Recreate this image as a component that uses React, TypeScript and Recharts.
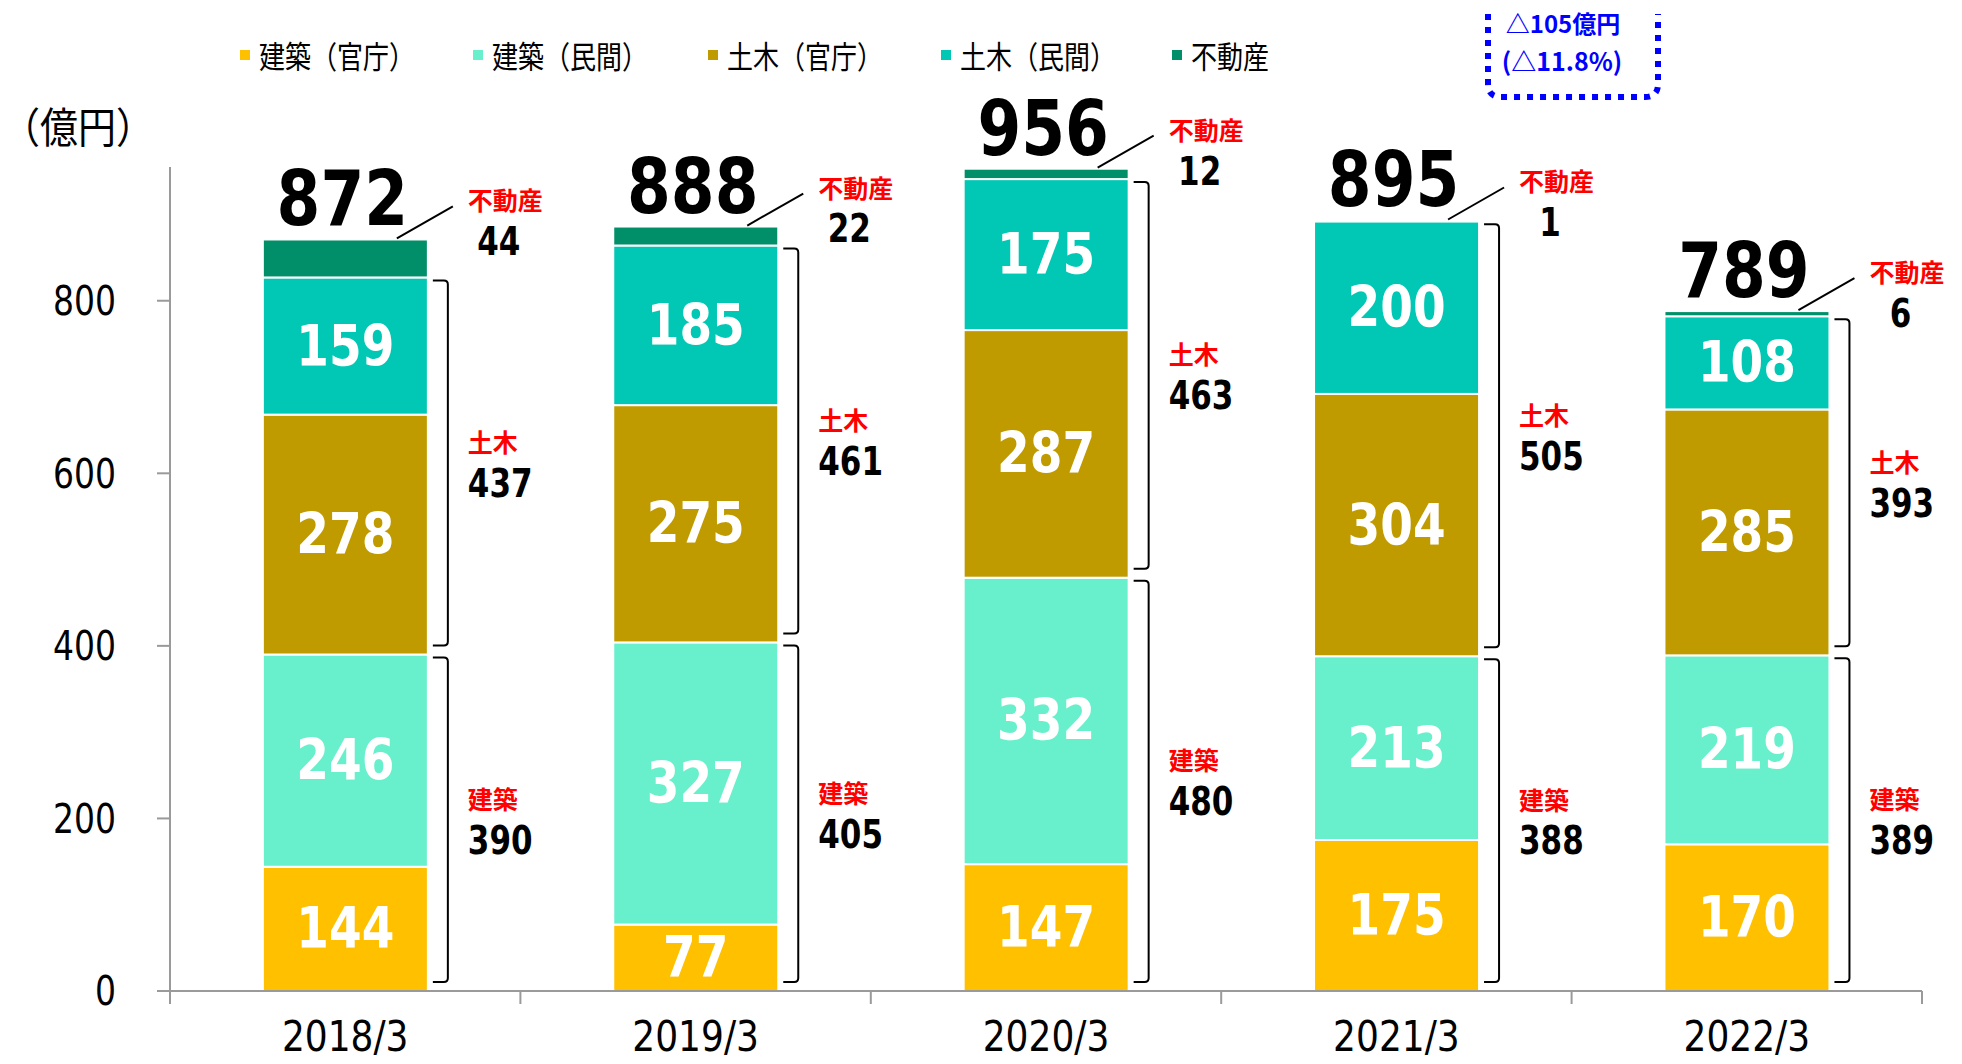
import React from 'react';
import { BarChart, Bar, XAxis, YAxis } from 'recharts';

const categories = ['2018/3', '2019/3', '2020/3', '2021/3', '2022/3'];
const kenchikuKancho = [144, 77, 147, 175, 170];
const kenchikuMinkan = [246, 327, 332, 213, 219];
const dobokuKancho = [278, 275, 287, 304, 285];
const dobokuMinkan = [159, 185, 175, 200, 108];
const fudosan = [44, 22, 12, 1, 6];
const kenchikuTotal = [390, 405, 480, 388, 389];
const dobokuTotal = [437, 461, 463, 505, 393];
const grandTotal = [872, 888, 956, 895, 789];
const yTicks = [0, 200, 400, 600, 800];

const seriesNames = ['建築（官庁）', '建築（民間）', '土木（官庁）', '土木（民間）', '不動産'];
const seriesKeys = ['kk', 'km', 'dk', 'dm', 'fd'];
const seriesColors = ['#FFC000', '#68F0CC', '#C09B00', '#00C8B4', '#008F68'];

const data = categories.map((name, i) => ({
  name,
  kk: kenchikuKancho[i],
  km: kenchikuMinkan[i],
  dk: dobokuKancho[i],
  dm: dobokuMinkan[i],
  fd: fudosan[i],
  kt: kenchikuTotal[i],
  dt: dobokuTotal[i],
  gt: grandTotal[i],
}));

const W = 1962;
const H = 1064;
const PLOT_LEFT = 170;
const PLOT_RIGHT = 1922;
const PLOT_TOP = 167;
const PLOT_BOTTOM = 991;
const BAND = (PLOT_RIGHT - PLOT_LEFT) / categories.length;

const NUM_FONT = '"DejaVu Sans", Verdana, sans-serif';
const CJK_FONT = '"Noto Sans CJK JP", "Noto Sans", sans-serif';
const AXIS_GRAY = '#9a9a9a';

const Bracket = ({ R, top, bottom, label, value }: any) => {
  const t = top + 3;
  const b = bottom - 9;
  const vx = R + 20;
  const mid = (t + b) / 2;
  return (
    <g>
      <path
        d={`M${R + 5},${t} L${vx - 4},${t} Q${vx},${t} ${vx},${t + 4} L${vx},${b - 4} Q${vx},${b} ${vx - 4},${b} L${R + 5},${b}`}
        fill="none"
        stroke="#000"
        strokeWidth={2}
      />
      <text
        x={R + 40}
        y={mid - 22}
        fill="#FF0000"
        fontFamily={CJK_FONT}
        fontWeight="bold"
        fontSize={25}
        dominantBaseline="central"
      >
        {label}
      </text>
      <text
        transform={`translate(${R + 40},${mid + 20}) scale(1,1.25)`}
        fill="#000"
        fontFamily={NUM_FONT}
        fontWeight="bold"
        fontSize={31}
        dominantBaseline="central"
      >
        {value}
      </text>
    </g>
  );
};

const makeShape = (key: string) => (props: any) => {
  const { x, y, width, height, fill, payload } = props;
  const v = payload[key];
  const R = x + width;
  const k = v ? height / v : 0;
  return (
    <g>
      <rect x={x} y={y} width={width} height={Math.max(height, 0)} fill={fill} stroke="#fff" strokeWidth={2} />
      {key !== 'fd' && (
        <text
          transform={`translate(${x + width / 2},${y + height / 2}) scale(1,1.2)`}
          fill="#fff"
          fontFamily={NUM_FONT}
          fontWeight="bold"
          fontSize={47}
          textAnchor="middle"
          dominantBaseline="central"
        >
          {v}
        </text>
      )}
      {key === 'km' && (
        <Bracket R={R} top={y} bottom={y + height + payload.kk * k} label="建築" value={payload.kt} />
      )}
      {key === 'dm' && (
        <Bracket R={R} top={y} bottom={y + height + payload.dk * k} label="土木" value={payload.dt} />
      )}
      {key === 'fd' && (
        <g>
          <line x1={R - 31} y1={y - 1} x2={R + 25} y2={y - 33} stroke="#000" strokeWidth={2} />
          <text
            x={R + 40}
            y={y - 40}
            fill="#FF0000"
            fontFamily={CJK_FONT}
            fontWeight="bold"
            fontSize={25}
            dominantBaseline="central"
          >
            不動産
          </text>
          <text
            transform={`translate(${R + 71},${y + 2}) scale(1,1.25)`}
            fill="#000"
            fontFamily={NUM_FONT}
            fontWeight="bold"
            fontSize={31}
            textAnchor="middle"
            dominantBaseline="central"
          >
            {v}
          </text>
          <text
            transform={`translate(${x + width / 2 - 3},${y - 14}) scale(1,1.22)`}
            fill="#000"
            fontFamily={NUM_FONT}
            fontWeight="bold"
            fontSize={63}
            textAnchor="middle"
          >
            {payload.gt}
          </text>
        </g>
      )}
    </g>
  );
};

const YTick = (props: any) => {
  const { x, y, payload } = props;
  return (
    <text
      transform={`translate(${x},${y}) scale(1,1.24)`}
      textAnchor="end"
      dominantBaseline="central"
      fontFamily={NUM_FONT}
      fontSize={33}
      fill="#000"
    >
      {payload.value}
    </text>
  );
};

const XTick = (props: any) => {
  const { x, payload, index } = props;
  const half = BAND / 2;
  return (
    <g>
      {index === 0 && (
        <line x1={x - half} x2={x - half} y1={PLOT_BOTTOM} y2={PLOT_BOTTOM + 13} stroke={AXIS_GRAY} strokeWidth={2} />
      )}
      <line x1={x + half} x2={x + half} y1={PLOT_BOTTOM} y2={PLOT_BOTTOM + 13} stroke={AXIS_GRAY} strokeWidth={2} />
      <text
        transform={`translate(${x},${PLOT_BOTTOM + 45}) scale(1,1.2)`}
        textAnchor="middle"
        dominantBaseline="central"
        fontFamily={NUM_FONT}
        fontSize={36}
        fill="#000"
      >
        {payload.value}
      </text>
    </g>
  );
};

const legendStarts = [240, 473, 708, 941, 1172];

export default function App() {
  return (
    <div
      style={{
        position: 'absolute',
        left: 0,
        top: 0,
        width: W,
        height: H,
        overflow: 'hidden',
        background: '#fff',
      }}
    >
      <BarChart
        width={W}
        height={H}
        data={data}
        margin={{ top: PLOT_TOP, right: W - PLOT_RIGHT, bottom: 0, left: 0 }}
        barCategoryGap="26.5%"
      >
        <XAxis
          dataKey="name"
          height={H - PLOT_BOTTOM}
          axisLine={{ stroke: AXIS_GRAY, strokeWidth: 2 }}
          tickLine={false}
          tick={<XTick />}
          interval={0}
        />
        <YAxis
          width={PLOT_LEFT}
          domain={[0, 955]}
          ticks={yTicks}
          axisLine={{ stroke: AXIS_GRAY, strokeWidth: 2 }}
          tickLine={{ stroke: AXIS_GRAY, strokeWidth: 2 }}
          tickSize={13}
          tickMargin={41}
          tick={<YTick />}
        />
        {seriesKeys.map((key, i) => (
          <Bar
            key={key}
            dataKey={key}
            name={seriesNames[i]}
            stackId="a"
            fill={seriesColors[i]}
            isAnimationActive={false}
            shape={makeShape(key)}
          />
        ))}
      </BarChart>

      {/* Legend */}
      {seriesNames.map((n, i) => (
        <div
          key={n}
          style={{
            position: 'absolute',
            left: legendStarts[i],
            top: 55,
            display: 'flex',
            alignItems: 'center',
            transform: 'translateY(-50%)',
            whiteSpace: 'nowrap',
          }}
        >
          <div style={{ width: 10, height: 10, background: seriesColors[i], marginRight: 9 }} />
          <span
            style={{
              fontFamily: CJK_FONT,
              fontSize: 26,
              color: '#000',
              display: 'inline-block',
              transform: 'scaleY(1.2)',
              lineHeight: 1,
            }}
          >
            {n}
          </span>
        </div>
      ))}

      {/* unit */}
      <div
        style={{
          position: 'absolute',
          left: 2,
          top: 125,
          transform: 'translateY(-50%) scaleY(1.1)',
          fontFamily: CJK_FONT,
          fontSize: 38,
          lineHeight: 1,
          color: '#000',
          whiteSpace: 'nowrap',
        }}
      >
        （億円）
      </div>

      {/* dotted callout box */}
      <svg style={{ position: 'absolute', left: 0, top: 0 }} width={W} height={120}>
        <path
          d="M1488,14 L1488,84 Q1488,97 1501,97 L1645,97 Q1658,97 1658,84 L1658,14"
          fill="none"
          stroke="#0000FF"
          strokeWidth={6}
          strokeDasharray="6 7"
        />
        <text
          x={1563}
          y={22}
          textAnchor="middle"
          dominantBaseline="central"
          fill="#0000FF"
          fontFamily={CJK_FONT}
          fontWeight="bold"
          fontSize={24}
        >
          △105億円
        </text>
        <text
          x={1562}
          y={60}
          textAnchor="middle"
          dominantBaseline="central"
          fill="#0000FF"
          fontFamily={CJK_FONT}
          fontWeight="bold"
          fontSize={25}
        >
          (△11.8%)
        </text>
      </svg>
    </div>
  );
}
